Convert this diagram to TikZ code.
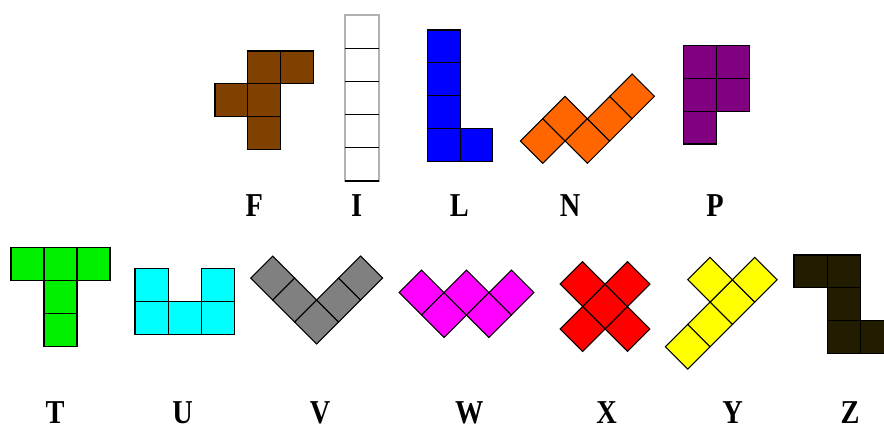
\documentclass[tikz,border=0pt]{standalone}
\usepackage{fontspec}
\setmainfont{Liberation Serif}
\newfontfamily\lblfont[FakeStretch=0.85]{Liberation Serif}

\definecolor{pcF}{HTML}{804000}
\definecolor{pcL}{HTML}{0000FF}
\definecolor{pcN}{HTML}{FF6600}
\definecolor{pcP}{HTML}{800080}
\definecolor{pcT}{HTML}{00F000}
\definecolor{pcU}{HTML}{00FFFF}
\definecolor{pcV}{HTML}{808080}
\definecolor{pcW}{HTML}{FF00FF}
\definecolor{pcX}{HTML}{FF0000}
\definecolor{pcY}{HTML}{FFFF00}
\definecolor{pcZ}{HTML}{221D00}

\begin{document}
\begin{tikzpicture}[
    x=0.02cm, y=0.02cm,
    piece/.style={draw=black, line width=0.6pt, line join=miter},
    lbl/.style={font=\lblfont\bfseries\fontsize{19}{22}\selectfont, anchor=base, inner sep=0pt},
]
\useasboundingbox (0,0) rectangle (884,-430);
\clip (0,0) rectangle (884,-430);

% top row, upright pieces
% F
\foreach \i/\j in {1/0,2/0,0/1,1/1,1/2}
    \filldraw[piece, fill=pcF] (215+\i*32.7, -51-\j*32.7) rectangle ++(32.7,-32.7);

% I: light outline, dark rules between cells
\filldraw[fill=white, draw=black!30, line width=0.8pt] (345,-15) rectangle (379,-181);
\foreach \j in {1,...,5}
    \draw[black, line width=0.7pt] (345,-15-\j*33.2) -- (379,-15-\j*33.2);

% L
\foreach \i/\j in {0/0,0/1,0/2,0/3,1/3}
    \filldraw[piece, fill=pcL] (427.7+\i*32.5, -30-\j*32.9) rectangle ++(32.5,-32.9);

% N (turned by 45 degrees)
\begin{scope}[shift={(542.7,-141)}, rotate=45]
    \foreach \i/\j in {0/0,1/0,1/-1,2/-1,3/-1}
        \filldraw[piece, fill=pcN] (\i*31.6-15.8, \j*31.6-15.8) rectangle ++(31.6,31.6);
\end{scope}

% P
\foreach \i/\j in {0/0,1/0,0/1,1/1,0/2}
    \filldraw[piece, fill=pcP] (683.3+\i*33.3, -45.6-\j*32.8) rectangle ++(33.3,-32.8);

% bottom row
% T
\foreach \i/\j in {0/0,1/0,2/0,1/1,1/2}
    \filldraw[piece, fill=pcT] (11+\i*33, -247.3-\j*33.1) rectangle ++(33,-33.1);

% U
\foreach \i/\j in {0/0,2/0,0/1,1/1,2/1}
    \filldraw[piece, fill=pcU] (135+\i*33.1, -268.3-\j*33) rectangle ++(33.1,-33);

% V
\begin{scope}[shift={(316.7,-322)}, rotate=45]
    \foreach \i/\j in {0/0,1/0,2/0,0/1,0/2}
        \filldraw[piece, fill=pcV] (\i*31.1-15.55, \j*31.1-15.55) rectangle ++(31.1,31.1);
\end{scope}

% W
\begin{scope}[shift={(444,-315)}, rotate=45]
    \foreach \i/\j in {0/1,0/0,1/0,1/-1,2/-1}
        \filldraw[piece, fill=pcW] (\i*31.8-15.9, \j*31.8-15.9) rectangle ++(31.8,31.8);
\end{scope}

% X
\begin{scope}[shift={(605,-306.5)}, rotate=45]
    \foreach \i/\j in {0/0,1/0,-1/0,0/1,0/-1}
        \filldraw[piece, fill=pcX] (\i*31.8-15.9, \j*31.8-15.9) rectangle ++(31.8,31.8);
\end{scope}

% Y
\begin{scope}[shift={(687.7,-346.7)}, rotate=45]
    \foreach \i/\j in {0/0,1/0,2/0,3/0,2/1}
        \filldraw[piece, fill=pcY] (\i*31.6-15.8, \j*31.6-15.8) rectangle ++(31.6,31.6);
\end{scope}

% Z
\foreach \i/\j in {0/0,1/0,1/1,1/2,2/2}
    \filldraw[piece, fill=pcZ] (794+\i*33.3, -255-\j*32.8) rectangle ++(33.3,-32.8);

% letters under the pieces
\node[lbl] (lblF) at (254.3,-216) {F};
\node[lbl] (lblI) at (356.7,-216) {I};
\node[lbl] (lblL) at (459.3,-216) {L};
\node[lbl] (lblN) at (570,-216) {N};
\node[lbl] (lblP) at (715,-216) {P};

\node[lbl] (lblT) at (55,-423) {T};
\node[lbl] (lblU) at (182.7,-423) {U};
\node[lbl] (lblV) at (320,-423) {V};
\node[lbl] (lblW) at (469.3,-423) {W};
\node[lbl] (lblX) at (606.7,-423) {X};
\node[lbl] (lblY) at (732.7,-423) {Y};
\node[lbl] (lblZ) at (850,-423) {Z};

\end{tikzpicture}
\end{document}
